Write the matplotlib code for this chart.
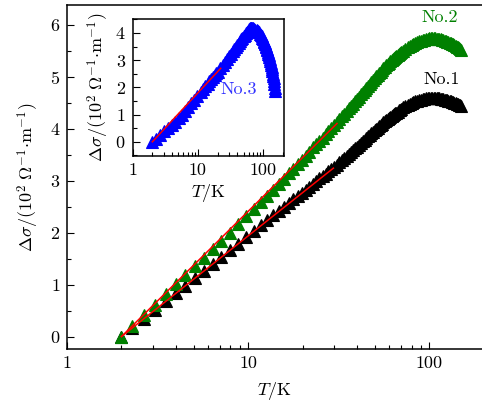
import matplotlib
matplotlib.use("Agg")
import matplotlib.pyplot as plt
from matplotlib.ticker import FuncFormatter, MultipleLocator

# temperature grid shared by sample No.1 and No.2
T_main = [2.0, 2.3, 2.65, 3.05, 3.5, 4.0, 4.5, 5.1, 5.7, 6.4, 7.1, 7.9, 8.8, 9.8,
          10.8, 11.8, 12.8, 13.8, 14.8, 15.8, 16.8, 17.8, 18.8, 19.8, 20.8, 21.8,
          22.8, 23.8, 24.8, 25.8, 26.8, 27.8, 28.8,
          30, 31, 32, 33, 34, 35, 36, 37, 38, 39, 40, 41, 42, 43, 44, 45, 46, 47,
          48, 49, 50, 51, 52, 53, 54, 55, 56, 57, 58, 59, 60, 61, 62, 63, 64, 65,
          66, 67, 68, 69, 70,
          72, 74, 76, 78, 80, 82, 84, 86, 88, 90, 92, 94, 96, 98, 100, 102, 104,
          106, 108, 110, 112, 114, 116, 118, 120, 122, 124, 126, 128, 130, 132,
          134, 136, 138, 140, 142, 144, 146, 148, 150]

sigma_no1 = [0.0, 0.169, 0.34, 0.509, 0.676, 0.837, 0.979, 1.131, 1.264, 1.404,
             1.53, 1.659, 1.789, 1.919,
             2.036, 2.144, 2.241, 2.331, 2.416, 2.495, 2.569, 2.638, 2.705, 2.768,
             2.828, 2.885, 2.939, 2.992, 3.042, 3.09, 3.137, 3.181, 3.224,
             3.27, 3.31, 3.35, 3.39, 3.43, 3.47, 3.51, 3.55, 3.58, 3.62, 3.65, 3.685,
             3.72, 3.755, 3.79, 3.82, 3.85, 3.88, 3.91, 3.94, 3.97, 3.995, 4.02,
             4.045, 4.07, 4.095, 4.12, 4.14, 4.16, 4.18, 4.20, 4.22, 4.24, 4.26,
             4.28, 4.295, 4.31, 4.33, 4.35, 4.365, 4.38,
             4.41, 4.435, 4.46, 4.48, 4.497, 4.51, 4.523, 4.537, 4.55, 4.56, 4.568,
             4.575, 4.582, 4.587, 4.59, 4.593, 4.595, 4.595, 4.592, 4.588, 4.585,
             4.582, 4.577, 4.57, 4.563, 4.557, 4.55, 4.543, 4.537, 4.53, 4.523,
             4.517, 4.51, 4.503, 4.493, 4.48, 4.473, 4.463, 4.45, 4.43]

sigma_no2 = [0.0, 0.203, 0.41, 0.614, 0.814, 1.008, 1.18, 1.36, 1.52, 1.69, 1.84,
             2.00, 2.16, 2.31,
             2.46, 2.59, 2.71, 2.82, 2.93, 3.04, 3.14, 3.23, 3.32, 3.40, 3.48, 3.56,
             3.64, 3.70, 3.77, 3.83, 3.90, 3.95, 4.01,
             4.08, 4.13, 4.19, 4.24, 4.29, 4.34, 4.39, 4.44, 4.48, 4.53, 4.57, 4.615,
             4.66, 4.70, 4.74, 4.78, 4.82, 4.86, 4.90, 4.935, 4.97, 5.005, 5.04,
             5.07, 5.10, 5.13, 5.16, 5.19, 5.22, 5.245, 5.27, 5.295, 5.32, 5.34,
             5.36, 5.38, 5.40, 5.415, 5.43, 5.45, 5.47,
             5.50, 5.535, 5.57, 5.60, 5.617, 5.63, 5.65, 5.667, 5.68, 5.695, 5.705,
             5.715, 5.725, 5.735, 5.74, 5.745, 5.745, 5.745, 5.742, 5.735, 5.73,
             5.723, 5.717, 5.71, 5.703, 5.695, 5.68, 5.673, 5.663, 5.65, 5.643,
             5.633, 5.62, 5.607, 5.593, 5.58, 5.567, 5.553, 5.54, 5.51]

# sample No.3 (inset)
T_no3 = [2.0, 2.3, 2.65, 3.05, 3.5, 4.0, 4.5, 5.1, 5.7, 6.4, 7.1, 7.9, 8.8, 9.8,
         11, 12, 13, 14, 15, 16, 17, 18, 19, 20, 22, 24, 26, 28, 30, 32, 34, 36,
         38, 40, 42, 44, 46, 48, 50, 52, 54, 56, 58, 60, 62, 64, 66, 68, 70,
         73, 76, 79, 82, 85, 88, 91, 94, 97, 100, 102, 104, 106, 108, 110, 112,
         114, 116, 118, 120, 122, 124, 126, 128, 130, 132, 134, 136, 138, 140,
         142, 144, 146, 148, 149, 150]

sigma_no3 = [0.0, 0.12, 0.25, 0.38, 0.50, 0.62, 0.74, 0.86, 1.00, 1.14, 1.27,
             1.41, 1.55, 1.69,
             1.84, 1.95, 2.05, 2.14, 2.22, 2.30, 2.38, 2.45, 2.52, 2.58, 2.70, 2.82,
             2.94, 3.05, 3.15, 3.24, 3.33, 3.42, 3.50, 3.57, 3.64, 3.70, 3.76, 3.82,
             3.88, 3.93, 3.98, 4.03, 4.08, 4.13, 4.17, 4.19, 4.19, 4.18, 4.17,
             4.15, 4.12, 4.09, 4.06, 4.02, 3.975, 3.92, 3.87, 3.82, 3.76, 3.72,
             3.67, 3.625, 3.575, 3.52, 3.47, 3.41, 3.36, 3.30, 3.235, 3.17, 3.10,
             3.035, 2.97, 2.895, 2.82, 2.75, 2.67, 2.59, 2.50, 2.415, 2.33, 2.23,
             2.11, 1.98, 1.86]

# linear-in-log fits (end points)
fit1_T, fit1_y = [2.0, 29.6], [0.0, 3.24]
fit2_T, fit2_y = [2.0, 31.0], [0.0, 4.10]
fit3_T, fit3_y = [2.0, 22.3], [0.0, 2.70]

plt.rcParams["font.family"] = "serif"
plt.rcParams["font.serif"] = ["cmr10", "DejaVu Serif"]
plt.rcParams["mathtext.fontset"] = "cm"
plt.rcParams["axes.formatter.use_mathtext"] = True
plt.rcParams["axes.unicode_minus"] = False

YLABEL = r"$\Delta\sigma/(10^2\ \Omega^{-1}{\cdot}\mathrm{m}^{-1})$"
XLABEL = r"$T/\mathrm{K}$"
FS = 13


def style_axes(ax):
    ax.set_xscale("log")
    ax.xaxis.set_major_formatter(FuncFormatter(lambda v, p: "%g" % v))
    ax.yaxis.set_major_locator(MultipleLocator(1))
    ax.yaxis.set_minor_locator(MultipleLocator(0.5))
    ax.tick_params(which="both", direction="in", top=False, right=False,
                   labelsize=FS, width=0.8)
    ax.tick_params(which="major", length=5, pad=5)
    ax.tick_params(which="minor", length=3)
    for s in ax.spines.values():
        s.set_linewidth(1.1)


fig = plt.figure(figsize=(4.82, 4.05), dpi=100)
ax = fig.add_axes([67 / 482, 1 - 349 / 405, 415 / 482, 344 / 405])
ax.plot(T_main, sigma_no1, "^", color="black", ms=8.5, mew=0.8)
ax.plot(T_main, sigma_no2, "^", color="#008000", ms=8.5, mew=0.8)
ax.plot(fit1_T, fit1_y, color="red", lw=1.1)
ax.plot(fit2_T, fit2_y, color="red", lw=1.1)
style_axes(ax)
ax.spines["right"].set_visible(False)
ax.set_xlim(1, 196)
ax.set_ylim(-0.24, 6.38)
ax.set_xlabel(XLABEL, fontsize=FS, labelpad=6)
ax.set_ylabel(YLABEL, fontsize=FS, labelpad=6)
ax.text(115, 6.15, "No.2", color="#008000", fontsize=FS, ha="center", va="center")
ax.text(117, 4.94, "No.1", color="black", fontsize=FS, ha="center", va="center")

ins = fig.add_axes([132.7 / 482, 1 - 155.7 / 405, 151.6 / 482, 136.7 / 405])
ins.plot(T_no3, sigma_no3, "^", color="blue", ms=8.5, mew=0.8)
ins.plot(fit3_T, fit3_y, color="red", lw=1.1)
style_axes(ins)
ins.set_xlim(1, 210)
ins.set_ylim(-0.51, 4.51)
ins.set_xlabel(XLABEL, fontsize=FS, labelpad=3)
ins.set_ylabel(YLABEL, fontsize=FS, labelpad=3)
ins.text(41.4, 1.94, "No.3", color="#3333ff", fontsize=FS, ha="center", va="center")

fig.savefig("out.png", dpi=100)
